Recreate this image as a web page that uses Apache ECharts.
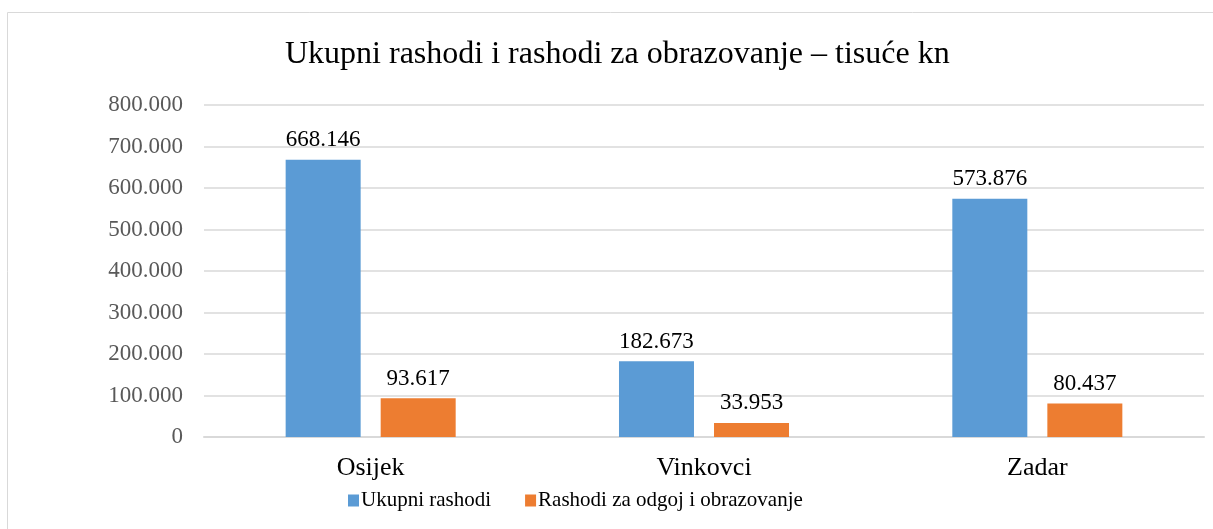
<!DOCTYPE html>
<html><head><meta charset="utf-8">
<script src="https://cdn.jsdelivr.net/npm/echarts@6/dist/echarts.min.js"></script>
<style>html,body{margin:0;padding:0;background:#fff}#c{width:1213px;height:529px}</style>
</head><body><div id="c"></div>
<script>
const categories = ['Osijek', 'Vinkovci', 'Zadar'];
const ukupni = [668146, 182673, 573876];
const obrazovanje = [93617, 33953, 80437];
const seriesNames = ['Ukupni rashodi', 'Rashodi za odgoj i obrazovanje'];
const title = 'Ukupni rashodi i rashodi za obrazovanje – tisuće kn';

const fmt = v => v === 0 ? '0' : String(v).replace(/\B(?=(\d{3})+(?!\d))/g, '.');
const FONT = '"Liberation Serif", "DejaVu Serif", serif';

const chart = echarts.init(document.getElementById('c'));
chart.setOption({
  animation: false,
  textStyle: { fontFamily: FONT },
  graphic: [{ type: 'rect', shape: { x: 7.5, y: 12.5, width: 1220, height: 530 },
    style: { fill: 'none', stroke: '#d9d9d9', lineWidth: 1 }, silent: true }],
  title: { text: title, left: 280, top: 34,
    textStyle: { fontFamily: FONT, fontSize: 32, fontWeight: 'normal', color: '#000' } },
  legend: { bottom: 13, left: 343, itemWidth: 11, itemHeight: 12, icon: 'rect', itemGap: 34,
    textStyle: { fontFamily: FONT, fontSize: 21, color: '#000', padding: [0, 0, 0, -3] }, data: seriesNames },
  grid: { left: 204, right: 9, top: 105, bottom: 92, containLabel: false },
  xAxis: { type: 'category', data: categories,
    axisLine: { lineStyle: { color: '#d9d9d9', width: 2 } }, axisTick: { show: false },
    axisLabel: { fontFamily: FONT, fontSize: 26, color: '#000', margin: 18 } },
  yAxis: { type: 'value', min: 0, max: 800000, interval: 100000,
    axisLine: { show: false }, axisTick: { show: false },
    splitLine: { lineStyle: { color: '#d9d9d9', width: 1.5 } },
    axisLabel: { fontFamily: FONT, fontSize: 23, color: '#595959', margin: 21, formatter: fmt } },
  series: [
    { name: seriesNames[0], type: 'bar', data: ukupni, barWidth: 75, barGap: '26.7%',
      itemStyle: { color: '#5b9bd5' },
      label: { show: true, position: 'top', distance: 8, formatter: p => fmt(p.value),
        fontFamily: FONT, fontSize: 23, color: '#000' } },
    { name: seriesNames[1], type: 'bar', data: obrazovanje, barWidth: 75,
      itemStyle: { color: '#ed7d31' },
      label: { show: true, position: 'top', distance: 8, formatter: p => fmt(p.value),
        fontFamily: FONT, fontSize: 23, color: '#000' } }
  ]
});
</script></body></html>
